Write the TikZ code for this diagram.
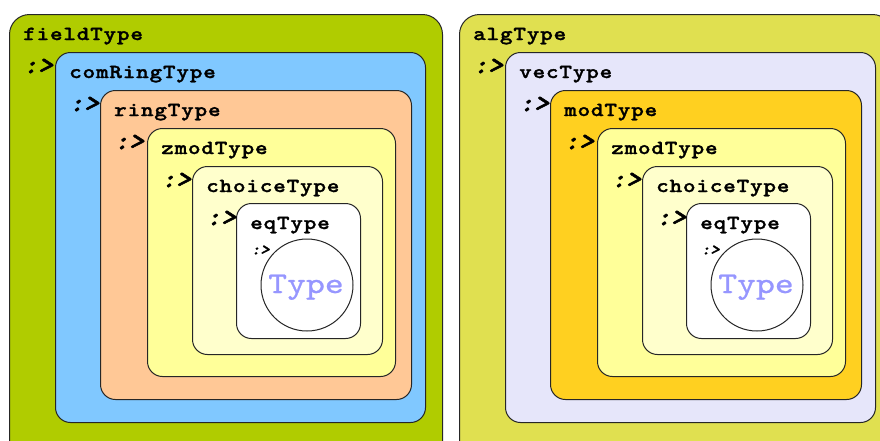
\documentclass[tikz,border=0pt]{standalone}
\usepackage{fontspec}
\usepackage{tikz}
\usetikzlibrary{positioning,calc}

% typewriter fonts: wide bold for the class names, slanted for the marks, plain for the base type
\newfontfamily\lblfont[FakeStretch=1.2, LetterSpace=4, FakeBold=1.5]{lmmonolt10-bold.otf}
\newfontfamily\subfont[FakeStretch=1.1, FakeSlant=0.2, FakeBold=2]{lmmonolt10-bold.otf}
\newfontfamily\basefont[FakeStretch=1.2, FakeBold=0.8]{lmmono10-regular.otf}

\definecolor{fieldgreen}{RGB}{176,204,0}
\definecolor{ringblue}{RGB}{128,200,255}
\definecolor{ringpeach}{RGB}{255,200,150}
\definecolor{zmodyel}{RGB}{255,255,153}
\definecolor{choiceyel}{RGB}{255,255,204}
\definecolor{algyel}{RGB}{224,224,80}
\definecolor{veclav}{RGB}{230,230,250}
\definecolor{modgold}{RGB}{255,208,32}
\definecolor{typeblue}{RGB}{150,150,255}

\begin{document}
\begin{tikzpicture}[x=1pt, y=-1pt,
  tbox/.style={draw=black!85, line width=1pt, inner sep=0pt, anchor=north west},
  tname/.style={font=\lblfont\fontsize{20}{24}\selectfont, anchor=base west, inner sep=0pt},
  subsym/.style={font=\subfont\fontsize{26}{28}\selectfont, anchor=west, inner sep=0pt},
  subsmall/.style={font=\subfont\fontsize{16}{18}\selectfont, anchor=west, inner sep=0pt},
  basecirc/.style={draw=black!85, line width=1pt, circle, fill=white, minimum size=92pt, inner sep=0pt},
  basetxt/.style={font=\basefont\fontsize{30}{34}\selectfont, text=typeblue, anchor=base, inner sep=0pt}]
\useasboundingbox (0,0) rectangle (880,440);
\clip (0,0) rectangle (880,440);

% field hierarchy
\foreach \n/\x/\y/\w/\h/\r/\c/\t in {
  field/9/14/433/460/20/fieldgreen/fieldType,
  comRing/55/52/370/370/15/ringblue/comRingType,
  ring/100/90/311/309/15/ringpeach/ringType,
  zmodL/147/128/248/248/15/zmodyel/zmodType,
  choiceL/192/166/190/188/15/choiceyel/choiceType,
  eqL/236/203/124/135/15/white/eqType}{
  \node[tbox, fill=\c, rounded corners=\r pt, minimum width=\w pt, minimum height=\h pt] (\n) at (\x,\y) {};
  \node[tname] (\n-lbl) at ($(\n.north west)+(14,26)$) {\t};
}

% algebra hierarchy
\foreach \n/\x/\y/\w/\h/\r/\c/\t in {
  alg/459/14/433/460/20/algyel/algType,
  vec/505/52/370/370/15/veclav/vecType,
  mod/550/90/311/309/15/modgold/modType,
  zmodR/597/128/248/248/15/zmodyel/zmodType,
  choiceR/642/166/190/188/15/choiceyel/choiceType,
  eqR/686/203/124/135/15/white/eqType}{
  \node[tbox, fill=\c, rounded corners=\r pt, minimum width=\w pt, minimum height=\h pt] (\n) at (\x,\y) {};
  \node[tname] (\n-lbl) at ($(\n.north west)+(14,26)$) {\t};
}

% subtype marks
\foreach \n in {field,comRing,ring,zmodL,choiceL,alg,vec,mod,zmodR,choiceR}
  \node[subsym] (\n-sub) at ($(\n.north west)+(14,52)$) {:>};
\foreach \n in {eqL,eqR}
  \node[subsmall] (\n-sub) at ($(\n.north west)+(15,47)$) {:>};

% the base Type
\node[basecirc] (baseL) at (307,285) {};
\node[basecirc] (baseR) at (757,285) {};
\node[basetxt] (baseL-txt) at ($(baseL.center)+(-1,8)$) {Type};
\node[basetxt] (baseR-txt) at ($(baseR.center)+(-1,8)$) {Type};
\end{tikzpicture}
\end{document}
